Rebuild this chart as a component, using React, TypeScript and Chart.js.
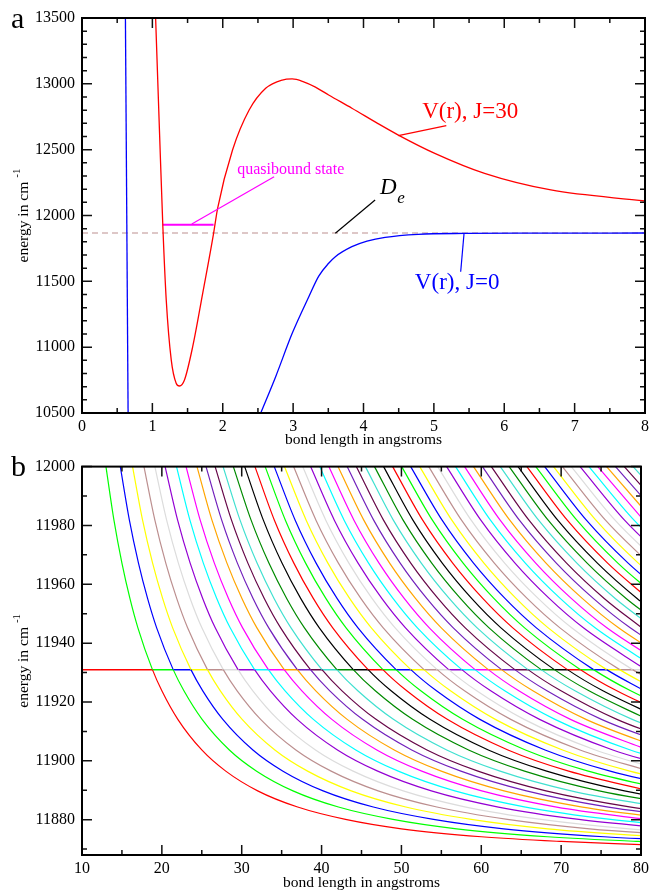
import React, { useEffect, useRef } from 'react';
import { Chart, registerables } from 'chart.js';
Chart.register(...registerables);

const FONT = '"Liberation Serif", "Times New Roman", Times, serif';

// ---------------- Panel a ----------------
const aXTickLabels = [0, 1, 2, 3, 4, 5, 6, 7, 8];
const aXMinorTicks = [0.5, 1.5, 2.5, 3.5, 4.5, 5.5, 6.5, 7.5];
const aYTickLabels = [10500, 11000, 11500, 12000, 12500, 13000, 13500];
const aYMinorTicks = [10600, 10700, 10800, 10900, 11100, 11200, 11300, 11400, 11600, 11700, 11800, 11900,
  12100, 12200, 12300, 12400, 12600, 12700, 12800, 12900, 13100, 13200, 13300, 13400];

// V(r), J=30 (red)
const j30R = [1.046, 1.102, 1.149, 1.197, 1.268, 1.338, 1.385, 1.456, 1.573, 1.715, 1.87, 1.927, 2.139, 2.375, 2.61, 2.845, 2.987, 3.15, 3.317, 3.505, 3.835, 4.2, 4.495, 5.013, 5.72, 6.662, 8.0];
const j30V = [13500, 12624, 11915, 11358, 10903, 10726, 10705, 10751, 11004, 11409, 11865, 12055, 12497, 12801, 12966, 13029, 13037, 13015, 12975, 12915, 12815, 12700, 12611, 12472, 12320, 12194, 12110];

// V(r), J=0 (blue): inner wall and outer branch
const j0WallR = [0.617, 0.655];
const j0WallV = [13500, 10500];
const j0R = [2.54, 2.752, 2.987, 3.223, 3.364, 3.505, 3.6, 3.835, 4.05, 4.307, 4.777, 5.437, 6.5, 8.0];
const j0V = [10500, 10776, 11105, 11383, 11540, 11637, 11687, 11763, 11805, 11834, 11857, 11864, 11866, 11867];

// quasibound level and dissociation energy
const quasiR = [1.149, 1.87];
const quasiE = 11930;
const deR = [0, 8];
const deE = 11867;

// ---------------- Panel b ----------------
const bXTickLabels = [10, 20, 30, 40, 50, 60, 70, 80];
const bXMinorTicks = [15, 25, 35, 45, 55, 65, 75];
const bYTickLabels = [11880, 11900, 11920, 11940, 11960, 11980, 12000];
const bYMinorTicks = [11870, 11890, 11910, 11930, 11950, 11970, 11990];
const bYMin = 11868;
const bE = 11931;

// lowest (red) centrifugal curve
const profileR = [13.0, 14, 15, 16, 17, 18.82, 20, 22, 25, 28, 32, 37, 43, 50, 60, 70, 80];
const profileV = [12000, 11981.8, 11967.2, 11955.2, 11945.2, 11931, 11923.8, 11914.1, 11903.7, 11896.5, 11889.8, 11884.3, 11880.1, 11876.9, 11874.2, 11872.6, 11871.5];

// radius at which each successive curve reaches the quasibound energy
const crossR = [18.82, 21.42, 23.64, 25.71, 27.69, 29.54, 31.61, 33.34, 35.32, 36.96, 38.61, 40.05, 41.91, 43.97,
  45.83, 47.68, 49.33, 51.18, 52.83, 54.48, 55.92, 57.57, 59.22, 60.88, 62.54, 64.20, 65.85, 67.50, 69.15, 70.79,
  72.43, 74.06, 75.70, 77.33, 78.95, 80.58, 82.20, 83.83, 85.45, 87.07, 88.68, 90.30, 91.91, 93.52, 95.13, 96.74,
  98.35, 99.95, 101.56, 103.17, 104.77, 106.37, 107.98, 109.58, 111.18, 112.78, 114.38, 115.98];

const palette = ['#ff0000', '#00ff00', '#0000ff', '#ffff00', '#bc8f8f', '#dcdcdc', '#9400d3', '#00ffff',
  '#ff00ff', '#ffa500', '#7221bc', '#670748', '#40e0d0', '#008b00', '#000000'];

// ---------------- helpers ----------------
const zip = (xs: number[], ys: number[]) => xs.map((x, i) => ({ x, y: ys[i] }));

function framePlugin(xMajor: number[], xMinor: number[], yMajor: number[], yMinor: number[]) {
  return {
    id: 'frame',
    afterDraw(chart: any) {
      const { ctx, chartArea, scales } = chart;
      const { left, right, top, bottom } = chartArea;
      const x = scales.x, y = scales.y;
      ctx.save();
      ctx.strokeStyle = '#111';
      ctx.lineWidth = 1.5;
      ctx.beginPath();
      const t = (x1: number, y1: number, x2: number, y2: number) => { ctx.moveTo(x1, y1); ctx.lineTo(x2, y2); };
      for (const v of xMajor) { const p = x.getPixelForValue(v); t(p, bottom, p, bottom - 10); t(p, top, p, top + 10); }
      for (const v of xMinor) { const p = x.getPixelForValue(v); t(p, bottom, p, bottom - 5); t(p, top, p, top + 5); }
      for (const v of yMajor) { const p = y.getPixelForValue(v); t(left, p, left + 10, p); t(right, p, right - 10, p); }
      for (const v of yMinor) { const p = y.getPixelForValue(v); t(left, p, left + 5, p); t(right, p, right - 5, p); }
      ctx.stroke();
      ctx.strokeStyle = '#000';
      ctx.lineWidth = 2;
      ctx.strokeRect(left, top, right - left, bottom - top);
      ctx.restore();
    },
  };
}

function titlesPlugin(letter: string, letterBaseline: number, xTitleOffset: number) {
  return {
    id: 'titles',
    afterDraw(chart: any) {
      const { ctx, chartArea } = chart;
      const { left, right, top, bottom } = chartArea;
      ctx.save();
      ctx.fillStyle = '#000';
      ctx.font = `30px ${FONT}`;
      ctx.textAlign = 'left';
      ctx.textBaseline = 'alphabetic';
      ctx.fillText(letter, 11, letterBaseline);
      ctx.font = `15.5px ${FONT}`;
      ctx.textAlign = 'center';
      ctx.textBaseline = 'middle';
      ctx.fillText('bond length in angstroms', (left + right) / 2, bottom + xTitleOffset);
      ctx.translate(28, (top + bottom) / 2);
      ctx.rotate(-Math.PI / 2);
      ctx.textAlign = 'left';
      ctx.textBaseline = 'alphabetic';
      ctx.font = `15.5px ${FONT}`;
      const main = 'energy in cm';
      const w1 = ctx.measureText(main).width;
      ctx.font = `11px ${FONT}`;
      const w2 = ctx.measureText('-1').width;
      const gap = 4;
      const start = -(w1 + gap + w2) / 2;
      ctx.font = `15.5px ${FONT}`;
      ctx.fillText(main, start, 0);
      ctx.font = `11px ${FONT}`;
      ctx.fillText('-1', start + w1 + gap, -8);
      ctx.restore();
    },
  };
}

const annotA = {
  id: 'annotA',
  afterDatasetsDraw(chart: any) {
    const { ctx, scales } = chart;
    const X = (v: number) => scales.x.getPixelForValue(v);
    const Y = (v: number) => scales.y.getPixelForValue(v);
    const seg = (color: string, w: number, r1: number, e1: number, r2: number, e2: number) => {
      ctx.strokeStyle = color; ctx.lineWidth = w;
      ctx.beginPath(); ctx.moveTo(X(r1), Y(e1)); ctx.lineTo(X(r2), Y(e2)); ctx.stroke();
    };
    ctx.save();
    seg('#ff00ff', 1.2, 1.56, 11935, 2.73, 12295);
    seg('#ff0000', 1.2, 4.495, 12606, 5.177, 12682);
    seg('#0000ff', 1.2, 5.428, 11860, 5.381, 11573);
    seg('#000000', 1.2, 3.6, 11865, 4.165, 12118);
    ctx.textAlign = 'left';
    ctx.textBaseline = 'alphabetic';
    ctx.fillStyle = '#ff00ff';
    ctx.font = `16px ${FONT}`;
    ctx.fillText('quasibound state', X(2.205), Y(12318));
    ctx.fillStyle = '#ff0000';
    ctx.font = `23px ${FONT}`;
    ctx.fillText('V(r), J=30', X(4.834), Y(12740));
    ctx.fillStyle = '#0000ff';
    ctx.fillText('V(r), J=0', X(4.73), Y(11442));
    ctx.fillStyle = '#000000';
    ctx.font = `italic 23px ${FONT}`;
    ctx.fillText('D', X(4.236), Y(12163));
    ctx.font = `italic 17px ${FONT}`;
    ctx.fillText('e', X(4.48), Y(12097));
    ctx.restore();
  },
};

function axisOpts(min: number, max: number, ticks: number[], isX: boolean, size: number) {
  return {
    type: 'linear',
    min, max,
    grid: { display: false, drawTicks: false },
    border: { display: false },
    ticks: {
      font: { family: FONT, size: 16 },
      color: '#000',
      padding: isX ? 4 : 7,
      autoSkip: false,
      maxRotation: 0,
      callback: (v: any) => String(v),
    },
    afterBuildTicks: (s: any) => { s.ticks = ticks.map((v) => ({ value: v })); },
    afterFit: (s: any) => { if (isX) s.height = size; else s.width = size; },
  };
}

function configA(): any {
  const line = (data: any[], color: string, w = 1.3) => ({
    data, borderColor: color, borderWidth: w, pointRadius: 0, cubicInterpolationMode: 'monotone', fill: false,
  });
  return {
    type: 'line',
    data: {
      datasets: [
        line(zip(j30R, j30V), '#ff0000'),
        line(zip(j0WallR, j0WallV), '#0000ff'),
        line(zip(j0R, j0V), '#0000ff'),
        line(zip(quasiR, [quasiE, quasiE]), '#ff00ff', 2),
        { ...line(zip(deR, [deE, deE]), '#bc8f8f', 1), borderDash: [6, 4] },
      ],
    },
    options: {
      animation: false,
      responsive: false,
      events: [],
      layout: { padding: { left: 0, right: 5, top: 18, bottom: 0 } },
      plugins: { legend: { display: false }, tooltip: { enabled: false } },
      scales: {
        x: axisOpts(0, 8, aXTickLabels, true, 37),
        y: axisOpts(10500, 13500, aYTickLabels, false, 82),
      },
    },
    plugins: [annotA, framePlugin(aXTickLabels, aXMinorTicks, aYTickLabels, aYMinorTicks), titlesPlugin('a', 28, 27)],
  };
}

function configB(): any {
  const datasets: any[] = [];
  for (let k = 0; k < crossR.length; k++) {
    const s = crossR[k] / crossR[0];
    const pts: any[] = [];
    for (let i = 0; i < profileR.length; i++) {
      const x = profileR[i] * s;
      pts.push({ x, y: profileV[i] });
      if (x > 80) break;
    }
    if (pts[0].x >= 80) continue;
    const above = palette[(k + 1) % palette.length];
    const below = palette[k % palette.length];
    datasets.push({
      data: pts, borderColor: below, borderWidth: 1.2, pointRadius: 0, cubicInterpolationMode: 'monotone', fill: false,
      segment: { borderColor: (c: any) => (c.p0.parsed.y > bE - 0.01 && c.p1.parsed.y > bE - 0.01 ? above : below) },
    });
  }
  for (let k = 0; k < crossR.length; k++) {
    const start = k === 0 ? 10 : crossR[k - 1];
    if (start >= 80) break;
    datasets.push({
      data: [{ x: start, y: bE }, { x: crossR[k], y: bE }],
      borderColor: palette[k % palette.length], borderWidth: 1.5, pointRadius: 0, fill: false,
    });
  }
  return {
    type: 'line',
    data: { datasets },
    options: {
      animation: false,
      responsive: false,
      events: [],
      layout: { padding: { left: 0, right: 5, top: 12, bottom: 0 } },
      plugins: { legend: { display: false }, tooltip: { enabled: false } },
      scales: {
        x: axisOpts(10, 80, bXTickLabels, true, 35),
        y: axisOpts(bYMin, 12000, bYTickLabels, false, 82),
      },
    },
    plugins: [framePlugin(bXTickLabels, bXMinorTicks, bYTickLabels, bYMinorTicks), titlesPlugin('b', 26, 28)],
  };
}

export default function App() {
  const refA = useRef<HTMLCanvasElement | null>(null);
  const refB = useRef<HTMLCanvasElement | null>(null);
  useEffect(() => {
    document.body.style.margin = '0';
    const a = new Chart(refA.current as HTMLCanvasElement, configA());
    const b = new Chart(refB.current as HTMLCanvasElement, configB());
    return () => { a.destroy(); b.destroy(); };
  }, []);
  return (
    <div style={{ position: 'absolute', left: 0, top: 0, width: 653, height: 890, background: '#fff' }}>
      <canvas ref={refA} width={653} height={450} style={{ position: 'absolute', left: 0, top: 0, width: 653, height: 450 }} />
      <canvas ref={refB} width={653} height={440} style={{ position: 'absolute', left: 0, top: 450, width: 653, height: 440 }} />
    </div>
  );
}
